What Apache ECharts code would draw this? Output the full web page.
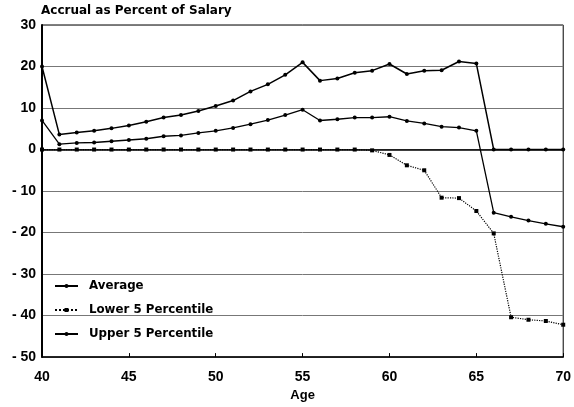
<!DOCTYPE html>
<html>
<head>
<meta charset="utf-8">
<script src="https://cdn.jsdelivr.net/npm/echarts@6/dist/echarts.min.js"></script>
<style>
    html, body { margin: 0; padding: 0; background: #fff; }
    #chart { width: 574px; height: 407px; }
</style>
</head>
<body>
<div id="chart"></div>
<script>
// ages 40..70
const ages = [40, 41, 42, 43, 44, 45, 46, 47, 48, 49, 50, 51, 52, 53, 54, 55,
    56, 57, 58, 59, 60, 61, 62, 63, 64, 65, 66, 67, 68, 69, 70]

const average = [7.0, 1.3, 1.6, 1.7, 2.0, 2.3, 2.6, 3.2, 3.4, 4.0, 4.5, 5.2, 6.1, 7.1, 8.3, 9.6,
    7.0, 7.3, 7.7, 7.7, 7.9, 6.9, 6.3, 5.5, 5.3, 4.5, -15.2, -16.2, -17.1, -17.9, -18.6]

const lower5 = [0, 0, 0, 0, 0, 0, 0, 0, 0, 0, 0, 0, 0, 0, 0, 0,
    0, 0, 0, -0.2, -1.3, -3.8, -5.0, -11.6, -11.7, -14.8, -20.2, -40.4, -41.0, -41.3, -42.2]

const upper5 = [20.0, 3.6, 4.1, 4.5, 5.1, 5.8, 6.7, 7.7, 8.3, 9.3, 10.5, 11.8, 14.0, 15.7, 18.0, 21.0,
    16.6, 17.1, 18.5, 19.0, 20.6, 18.2, 19.0, 19.1, 21.2, 20.7, 0, 0, 0, 0, 0]

const pairs = (vals) => ages.map((a, i) => [a, vals[i]])

const font = "Liberation Sans"
const wideFont = "DejaVu Sans"

const chart = echarts.init(document.getElementById("chart"))

chart.setOption({
    animation: false,
    textStyle: { fontFamily: font },
    title: {
        text: "Accrual as Percent of Salary",
        left: 41,
        top: 5,
        padding: 0,
        textStyle: { fontSize: 12, fontWeight: "bold", color: "#000", fontFamily: wideFont },
    },
    legend: {
        orient: "vertical",
        left: 54,
        top: 280,
        padding: 0,
        itemWidth: 23,
        itemHeight: 5,
        itemGap: 12,
        textStyle: {
            fontSize: 11.8,
            fontWeight: "bold",
            color: "#000",
            fontFamily: wideFont,
            padding: [0, 0, 0, 6],
        },
        data: ["Average", "Lower 5 Percentile", "Upper 5 Percentile"],
    },
    grid: {
        left: 42,
        right: 9,
        top: 25,
        bottom: 46,
        show: true,
        borderColor: "#000",
        borderWidth: 1,
    },
    xAxis: {
        type: "value",
        min: 40,
        max: 70,
        interval: 5,
        name: "Age",
        nameLocation: "middle",
        nameGap: 24,
        nameTextStyle: { fontSize: 13, fontWeight: "bold", color: "#000", fontFamily: font },
        axisLine: { onZero: false, lineStyle: { color: "#000", width: 1.5 } },
        axisTick: { inside: true, length: 4, lineStyle: { color: "#000" } },
        axisLabel: { fontSize: 14, fontWeight: "bold", color: "#000", margin: 13, fontFamily: font },
        splitLine: { show: false },
    },
    yAxis: {
        type: "value",
        min: -50,
        max: 30,
        interval: 10,
        axisLine: { show: true, lineStyle: { color: "#000", width: 2 } },
        axisTick: { show: false },
        axisLabel: {
            fontSize: 14,
            fontWeight: "bold",
            color: "#000",
            margin: 6,
            fontFamily: font,
            formatter: (v) => (v < 0 ? "- " + Math.abs(v) : String(v)),
        },
        splitLine: { show: true, lineStyle: { color: "#777", width: 1 } },
    },
    series: [
        {
            name: "Average",
            type: "line",
            data: pairs(average),
            symbol: "circle",
            symbolSize: 4,
            color: "#000",
            lineStyle: { color: "#000", width: 1.3 },
            itemStyle: { color: "#000" },
            markLine: {
                silent: true,
                symbol: "none",
                label: { show: false },
                lineStyle: { color: "#000", width: 1.5, type: "solid" },
                data: [{ yAxis: 0 }],
            },
            z: 3,
        },
        {
            name: "Lower 5 Percentile",
            type: "line",
            data: pairs(lower5),
            symbol: "rect",
            symbolSize: 4,
            color: "#000",
            lineStyle: { color: "#000", width: 1.2, type: "dotted" },
            itemStyle: { color: "#000" },
            z: 2,
        },
        {
            name: "Upper 5 Percentile",
            type: "line",
            data: pairs(upper5),
            symbol: "circle",
            symbolSize: 4,
            color: "#000",
            lineStyle: { color: "#000", width: 1.5 },
            itemStyle: { color: "#000" },
            z: 4,
        },
    ],
})
</script>
</body>
</html>
